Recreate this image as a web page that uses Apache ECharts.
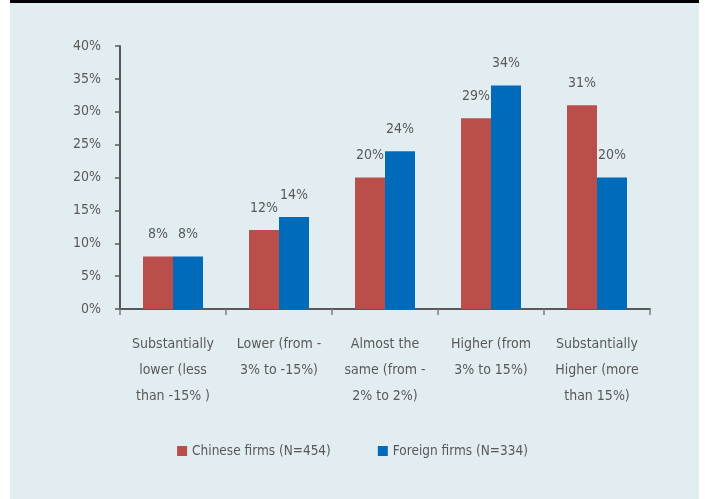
<!DOCTYPE html>
<html>
<head>
<meta charset="utf-8">
<script src="https://cdn.jsdelivr.net/npm/echarts@6/dist/echarts.min.js"></script>
<style>
html,body{margin:0;padding:0;background:#ffffff;}
#chart{width:705px;height:499px;}
</style>
</head>
<body>
<div id="chart"></div>
<script>
var categories = [
  "Substantially\nlower (less\nthan -15% )",
  "Lower (from -\n3% to -15%)",
  "Almost the\nsame (from -\n2% to 2%)",
  "Higher (from\n3% to 15%)",
  "Substantially\nHigher (more\nthan 15%)"
];
var chineseFirms = [8, 12, 20, 29, 31];
var foreignFirms = [8, 14, 24, 34, 20];
var seriesNames = ["Chinese firms (N=454)", "Foreign firms (N=334)"];
var yTicks = [0, 5, 10, 15, 20, 25, 30, 35, 40];

var FONT = '"Liberation Sans Narrow", "DejaVu Sans Condensed", sans-serif';
var TXT = '#595959';
var FS = 14;

var chart = echarts.init(document.getElementById('chart'), null, {renderer: 'canvas'});
var option = {
  backgroundColor: '#ffffff',
  animation: false,
  textStyle: {fontFamily: FONT, color: TXT},
  graphic: [
    {type: 'rect', z: -10, shape: {x: 10, y: 0, width: 689, height: 499}, style: {fill: '#e2edf1'}},
    {type: 'rect', z: -9, shape: {x: 10, y: 0, width: 689, height: 3}, style: {fill: '#000000'}}
  ],
  grid: {left: 120, right: 55, top: 46, bottom: 190, containLabel: false},
  legend: {
    top: 439,
    left: 'center',
    itemWidth: 10,
    itemHeight: 10,
    itemGap: 47,
    icon: 'rect',
    textStyle: {fontFamily: FONT, fontSize: 13.5, color: TXT},
    data: seriesNames
  },
  xAxis: {
    type: 'category',
    data: categories,
    axisLine: {lineStyle: {color: '#595959', width: 2}},
    axisTick: {show: true, length: 6, lineStyle: {color: '#7f7f7f', width: 1.5}},
    axisLabel: {fontFamily: FONT, fontSize: FS, color: TXT, lineHeight: 26, margin: 22, interval: 0}
  },
  yAxis: {
    type: 'value',
    min: yTicks[0],
    max: yTicks[yTicks.length - 1],
    interval: 5,
    splitLine: {show: false},
    axisLine: {show: true, lineStyle: {color: '#595959', width: 2}},
    axisTick: {show: true, length: 5, lineStyle: {color: '#595959', width: 1.5}},
    axisLabel: {fontFamily: FONT, fontSize: FS, color: TXT, margin: 19, formatter: function (v) { return v + '%'; }}
  },
  series: [
    {
      name: seriesNames[0],
      type: 'bar',
      data: chineseFirms,
      barWidth: 30,
      barGap: '0%',
      itemStyle: {color: '#b94e4b'},
      label: {show: true, position: 'top', distance: 15, fontFamily: FONT, fontSize: FS, color: TXT, formatter: '{c}%'}
    },
    {
      name: seriesNames[1],
      type: 'bar',
      data: foreignFirms,
      barWidth: 30,
      barGap: '0%',
      itemStyle: {color: '#006bba'},
      label: {show: true, position: 'top', distance: 15, fontFamily: FONT, fontSize: FS, color: TXT, formatter: '{c}%'}
    }
  ]
};
chart.setOption(option);
</script>
</body>
</html>
